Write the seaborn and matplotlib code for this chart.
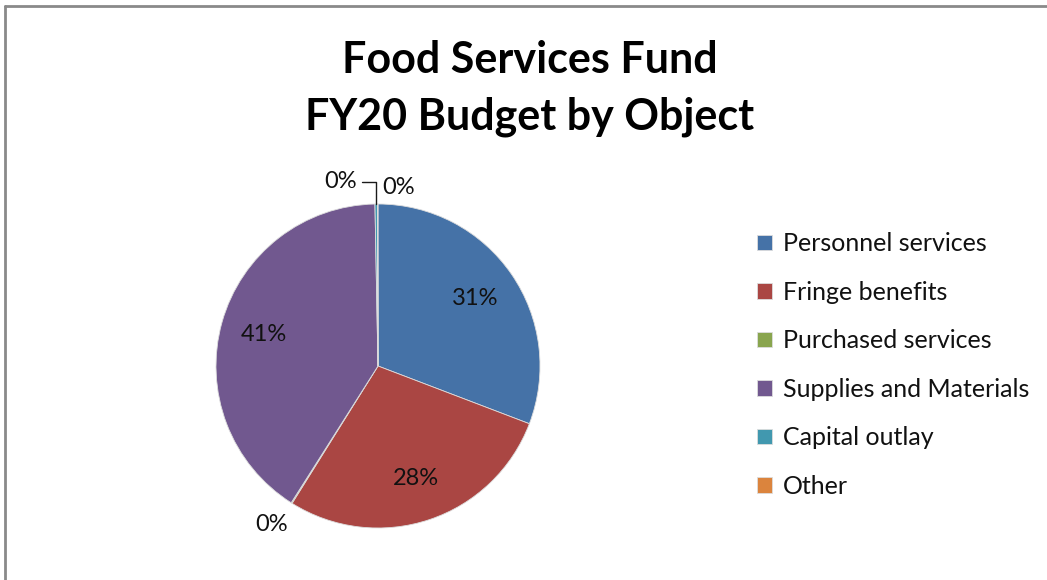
import matplotlib
matplotlib.use("Agg")
import matplotlib.pyplot as plt
from matplotlib.lines import Line2D
import seaborn as sns

# data
categories = ["Personnel services", "Fringe benefits", "Purchased services",
              "Supplies and Materials", "Capital outlay", "Other"]
shares = [30.8, 28.1, 0.1, 40.7, 0.25, 0.05]
colors = ["#4572A7", "#AA4643", "#89A54E", "#71588F", "#4198AF", "#DB843D"]
title_lines = ["Food Services Fund", "FY20 Budget by Object"]

sns.set_theme(style="white")
plt.rcParams['font.family'] = ['Lato', 'DejaVu Sans']
palette = sns.color_palette(colors)

fig = plt.figure(figsize=(10.47, 5.8), dpi=100)
fig.patch.set_facecolor("white")

# pie axes: centre (378, 366) px, radius 162 px
ax = fig.add_axes([216 / 1047, 52 / 580, 324 / 1047, 324 / 580])
wedges, texts, autotexts = ax.pie(
    shares, colors=palette, startangle=90, counterclock=False,
    autopct='%1.0f%%', pctdistance=0.73, radius=1.0,
    wedgeprops=dict(linewidth=0.6, edgecolor="#dddddd"),
    textprops=dict(fontsize=17, color="#111111"))
ax.set_xlim(-1, 1)
ax.set_ylim(-1, 1)
ax.set_aspect("equal")
ax.axis("off")

# move the tiny-slice labels outside like the original
small_pos = {2: (-0.66, -0.98), 4: (-0.23, 1.14), 5: (0.13, 1.10)}
for i, t in enumerate(autotexts):
    t.set_clip_on(False)
    if i in small_pos:
        t.set_position(small_pos[i])
# leader line for the capital outlay label
ax.add_line(Line2D([-0.01, -0.01, -0.10], [1.0, 1.135, 1.135],
                   color="#1a1a1a", linewidth=1.0, clip_on=False))

fig.text(530 / 1047, 1 - 60 / 580, title_lines[0], ha="center", va="center",
         fontsize=31, fontweight="bold", color="black")
fig.text(530 / 1047, 1 - 117 / 580, title_lines[1], ha="center", va="center",
         fontsize=31, fontweight="bold", color="black")

leg = fig.legend(wedges, categories, loc="center left",
                 bbox_to_anchor=(757 / 1047, 1 - 365 / 580),
                 frameon=False, fontsize=18, borderpad=0, borderaxespad=0,
                 handlelength=0.58, handleheight=0.58, handletextpad=0.45,
                 labelspacing=1.02)
for t in leg.get_texts():
    t.set_color("#111111")

# grey frame edges visible at top and left
fig.add_artist(Line2D([5 / 1047, 1], [1 - 6 / 580, 1 - 6 / 580],
                      transform=fig.transFigure, color="#8a8a8a", linewidth=2))
fig.add_artist(Line2D([5 / 1047, 5 / 1047], [0, 1 - 6 / 580],
                      transform=fig.transFigure, color="#8a8a8a", linewidth=2))

fig.savefig("out.png", dpi=100, facecolor="white")
